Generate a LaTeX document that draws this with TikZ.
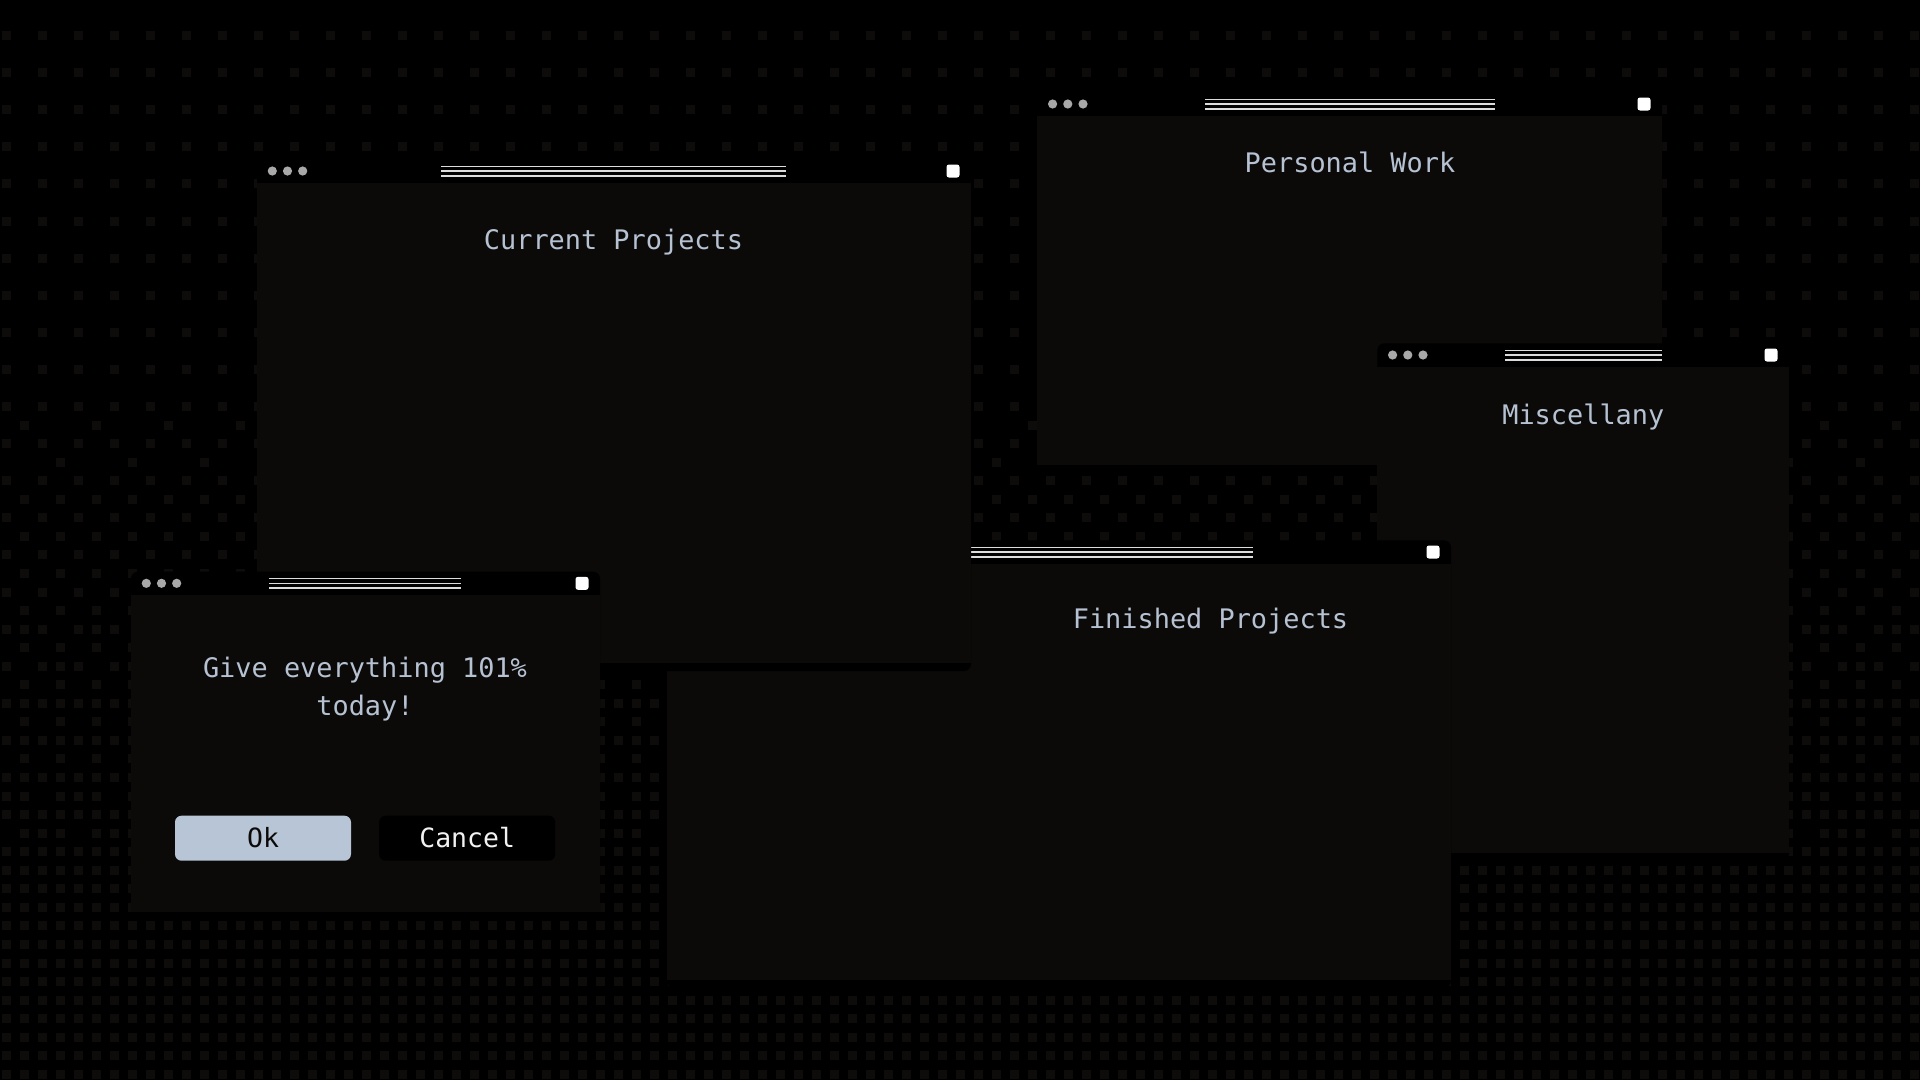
\documentclass[tikz,border=0pt]{standalone}
\usepackage{fontspec}
\setmonofont{DejaVu Sans Mono}
\definecolor{bodyc}{HTML}{0B0A09}
\definecolor{dotc}{HTML}{0D0C0B}
\definecolor{tdot}{HTML}{A8A8A8}
\definecolor{stripec}{HTML}{DCDCDC}
\definecolor{titlec}{HTML}{B6C2D2}
\definecolor{okc}{HTML}{B8C5D6}
\definecolor{cancelt}{HTML}{F2F2F2}
\tikzset{
  wintitle/.style={font=\ttfamily\fontsize{26.9}{32}\selectfont, text=titlec, anchor=base, inner sep=0pt},
  btn/.style={rounded corners=6.5pt, minimum width=176pt, minimum height=45pt, inner sep=0pt,
    text height=19.3pt, text depth=0pt, font=\ttfamily\fontsize{26.5}{32}\selectfont},
  okbtn/.style={btn, fill=okc, text=bodyc},
  cancelbtn/.style={btn, fill=black, text=cancelt},
  stripe/.style={draw=stripec, line width=1.6pt},
}
% #1 x0, #2 bar top, #3 x1, #4 body bottom, #5 stripe start, #6 stripe end
\newcommand\mywin[6]{%
  \fill[black, rounded corners=7pt] (#1,#2) rectangle (#3,#4+7.7);
  \fill[bodyc] (#1,#2+23.4) rectangle (#3,#4);
  \foreach \k in {0,1,2} \fill[tdot] (#1+15.3+15.2*\k,#2+11.7) circle (4.6pt);
  \foreach \k in {-4.7,0,4.7} \draw[stripe] (#5,#2+11.7+\k) -- (#6,#2+11.7+\k);
  \fill[white, rounded corners=2.5pt] (#3-24.5,#2+5.2) rectangle (#3-11.5,#2+18.2);
}
\newcommand\bayerset[1]{%
  \ifcase#1\relax \def\M{0}\or\def\M{8}\or\def\M{2}\or\def\M{10}%
  \or\def\M{12}\or\def\M{4}\or\def\M{14}\or\def\M{6}%
  \or\def\M{3}\or\def\M{11}\or\def\M{1}\or\def\M{9}%
  \or\def\M{15}\or\def\M{7}\or\def\M{13}\or\def\M{5}\fi}
\begin{document}
\begin{tikzpicture}[x=1pt,y=-1pt]
\useasboundingbox (0,0) rectangle (1920,1080);
\fill[black] (0,0) rectangle (1920,1080);
% dithered dot background
\foreach \r in {0,...,57} {
  \pgfmathsetmacro\yy{31+18.55*(\r-1)}
  \pgfmathsetmacro\T{4+max(0,\yy-400)*0.024}
  \pgfmathtruncatemacro\rmod{mod(\r+3,4)}
  \foreach \c in {0,...,106} {
    \pgfmathtruncatemacro\cmod{mod(\c,4)}
    \bayerset{\numexpr4*\rmod+\cmod\relax}
    \ifdim\M pt<\T pt
      \fill[dotc] (2+18*\c,\yy) rectangle ++(9,9);
    \fi
  }
}
% windows, back to front
\mywin{1037.3}{92.3}{1662}{465.3}{1205}{1495}
\mywin{1377.3}{343.3}{1789}{852.7}{1505}{1661.7}
\mywin{667}{540.3}{1451}{980}{865}{1253}
\mywin{257}{159.3}{971}{663.3}{440.8}{786}
\node[wintitle] (cur) at (613.5,249.8) {Current Projects};
\mywin{131}{571.6}{600}{911.7}{269}{461}
\node[wintitle] (pers) at (1350,172.3) {Personal Work};
\node[wintitle] (misc) at (1583.3,424.3) {Miscellany};
\node[wintitle] (fin) at (1210.5,628.2) {Finished Projects};
\node[wintitle] (msga) at (365,677.3) {Give everything 101\%};
\node[wintitle] (msgb) at (365,715) {today!};
\node[okbtn] (ok) at (263,838.2) {Ok};
\node[cancelbtn] (cancel) at (467.2,838.2) {Cancel};
\end{tikzpicture}
\end{document}
